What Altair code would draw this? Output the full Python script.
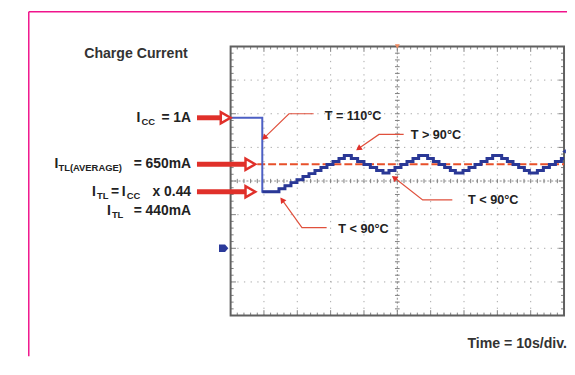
import altair as alt
import pandas as pd

FONT = "Liberation Sans"
TXT = "#222222"
RED = "#e0302a"
CALL = "#e0503c"
BLUE = "#2a3896"
BLUE_LIGHT = "#4c5fc4"
PINK = "#f0148c"

# ---- trace (time in s, 10 s/div; current in A) ----
time_s = [0, 9.5, 14.5, 16.3, 18.1, 19.9, 21.7, 23.5, 25.3, 27.1, 28.9, 30.7, 32.5, 34.1,
          36.2, 38.1, 40.0, 41.9, 43.8, 45.7,
          47.5, 49.3, 51.1, 52.9, 54.7, 56.4,
          59.1, 60.8, 62.5, 64.2, 65.9, 67.4,
          69.7, 71.5, 73.3, 75.1, 76.9, 78.6,
          81.3, 83.0, 84.7, 86.4, 88.1, 89.6,
          92.0, 93.8, 95.6, 97.4, 99.2, 100]
current_a = [0.97, 0.42, 0.443, 0.465, 0.488, 0.51, 0.533, 0.555, 0.578, 0.60, 0.623, 0.645, 0.668, 0.69,
             0.668, 0.645, 0.623, 0.60, 0.578, 0.56,
             0.578, 0.60, 0.623, 0.645, 0.668, 0.69,
             0.668, 0.645, 0.623, 0.60, 0.578, 0.56,
             0.578, 0.60, 0.623, 0.645, 0.668, 0.69,
             0.668, 0.645, 0.623, 0.60, 0.578, 0.56,
             0.578, 0.60, 0.623, 0.645, 0.668, 0.668]

icc_level = 0.97
avg_level = 0.625
itl_level = 0.42
avg_start = 8.0

x_domain = [0, 100]
y_domain = [-0.5, 1.5]
x_grid = [10, 20, 30, 40, 60, 70, 80, 90]
y_grid = [-0.25, 0.0, 0.25, 0.75, 1.0, 1.25]
x_center = 50
y_center = 0.5

# callouts: (id, t, I) polyline points, last point is the arrow tip
call_id = [1, 1, 1, 2, 2, 2, 3, 3, 3, 4, 4, 4]
call_t = [24.9, 17.5, 10.3, 51.9, 44.5, 38.6, 66.5, 57.6, 49.3, 28.8, 21.4, 15.6]
call_i = [1.0, 1.0, 0.826, 0.846, 0.846, 0.745, 0.36, 0.36, 0.52, 0.154, 0.154, 0.355]
head_angle = [226, 236, 307, 324]

call_text = ["T = 110°C", "T > 90°C", "T < 90°C", "T < 90°C"]
call_text_t = [28.2, 54.0, 71.2, 32.3]
call_text_i = [0.98, 0.84, 0.36, 0.14]

xs = alt.Scale(domain=x_domain, range=[225, 562], nice=False, zero=False)
ys = alt.Scale(domain=y_domain, range=[309, 37], nice=False, zero=False)


def X(f):
    return alt.X(f, type="quantitative", scale=xs, axis=None)


def Y(f):
    return alt.Y(f, type="quantitative", scale=ys, axis=None)


one = pd.DataFrame({"a": [0]})
layers = []

# pink page border
layers.append(alt.Chart(one).mark_rule(color=PINK, strokeWidth=1.5).encode(
    x=alt.value(21), y=alt.value(2), y2=alt.value(350)))
layers.append(alt.Chart(one).mark_rule(color=PINK, strokeWidth=1.5).encode(
    x=alt.value(21), x2=alt.value(565), y=alt.value(2)))

# grid
gv = pd.DataFrame({"t": x_grid, "lo": y_domain[0], "hi": y_domain[1]})
gh = pd.DataFrame({"v": y_grid, "lo": x_domain[0], "hi": x_domain[1]})
dash = [1.3, 5.44]
layers.append(alt.Chart(gv).mark_rule(color="#a8a8a8", strokeWidth=1, strokeDash=dash).encode(
    x=X("t"), y=Y("lo"), y2="hi"))
layers.append(alt.Chart(gh).mark_rule(color="#a8a8a8", strokeWidth=1, strokeDash=dash).encode(
    y=Y("v"), x=X("lo"), x2="hi"))
cv = pd.DataFrame({"t": [x_center], "lo": y_domain[0], "hi": y_domain[1]})
ch = pd.DataFrame({"v": [y_center], "lo": x_domain[0], "hi": x_domain[1]})
layers.append(alt.Chart(cv).mark_rule(color="#909090", strokeWidth=1, strokeDash=[2, 2]).encode(
    x=X("t"), y=Y("lo"), y2="hi"))
layers.append(alt.Chart(ch).mark_rule(color="#909090", strokeWidth=1, strokeDash=[2, 2]).encode(
    y=Y("v"), x=X("lo"), x2="hi"))

# small graticule ticks (every 0.2 div) on the centre lines and the frame
minor_t = [round(2 * i, 1) for i in range(1, 50)]
minor_i = [round(-0.5 + 0.05 * i, 2) for i in range(1, 40)]
seg = []
for t in minor_t:
    L = 0.04 if t % 10 == 0 else 0.022
    seg.append((t, t, y_center - 0.016, y_center + 0.016))
    seg.append((t, t, y_domain[0], y_domain[0] + L))
    seg.append((t, t, y_domain[1] - L, y_domain[1]))
for v in minor_i:
    L = 1.6 if abs(v * 4 - round(v * 4)) < 1e-6 else 0.9
    seg.append((x_center - 0.7, x_center + 0.7, v, v))
    seg.append((x_domain[0], x_domain[0] + L, v, v))
    seg.append((x_domain[1] - L, x_domain[1], v, v))
segdf = pd.DataFrame(seg, columns=["x1", "x2", "y1", "y2"])
layers.append(alt.Chart(segdf).mark_rule(color="#808080", strokeWidth=1).encode(
    x=X("x1"), x2="x2", y=Y("y1"), y2="y2"))

# frame
frame = pd.DataFrame({"x1": [x_domain[0]], "x2": [x_domain[1]], "y1": [y_domain[0]], "y2": [y_domain[1]]})
layers.append(alt.Chart(frame).mark_rect(fillOpacity=0, stroke="#606060", strokeWidth=2).encode(
    x=X("x1"), x2="x2", y=Y("y1"), y2="y2"))

# trigger marker on top
layers.append(alt.Chart(pd.DataFrame({"t": [x_center], "v": [y_domain[1]]})).mark_point(
    shape="triangle-down", filled=True, color="#f08a60", size=25, opacity=1).encode(x=X("t"), y=Y("v")))

# ground marker "D"
layers.append(alt.Chart(pd.DataFrame({"v": [0.0]})).mark_point(
    shape="M-1,-0.8L0.3,-0.8L1,0L0.3,0.8L-1,0.8Z", filled=True, color="#2b3a9a", size=90, opacity=1
).encode(x=alt.value(218), y=Y("v")))

# trigger-level marker at right edge
layers.append(alt.Chart(pd.DataFrame({"t": [x_domain[1]], "v": [0.72]})).mark_point(
    shape="triangle-left", filled=True, color="#2b3a9a", size=18, opacity=1).encode(x=X("t"), y=Y("v")))

# average line
avgdf = pd.DataFrame({"t0": [avg_start], "t1": [x_domain[1]], "v": [avg_level]})
layers.append(alt.Chart(avgdf).mark_rule(color="#e8502a", strokeWidth=2, strokeDash=[8, 3]).encode(
    x=X("t0"), x2="t1", y=Y("v")))

# trace: thin light part (constant-current level and drop), thick dark staircase
tr = pd.DataFrame({"t": time_s, "i": current_a})
layers.append(alt.Chart(tr).mark_line(interpolate="step-after", color=BLUE_LIGHT, strokeWidth=2).encode(
    x=X("t"), y=Y("i")))
tr2 = pd.DataFrame({"t": time_s[1:], "i": current_a[1:]})
layers.append(alt.Chart(tr2).mark_line(interpolate="step-after", color=BLUE, strokeWidth=3).encode(
    x=X("t"), y=Y("i")))

# big red arrows on the left
for level, x0, x1, hx in [(icc_level, 191, 216, 220), (avg_level, 191, 241, 245), (itl_level, 191, 241, 245)]:
    d = pd.DataFrame({"v": [level]})
    layers.append(alt.Chart(d).mark_rule(color=RED, strokeWidth=5).encode(
        x=alt.value(x0), x2=alt.value(x1), y=Y("v")))
    layers.append(alt.Chart(d).mark_point(shape="triangle-right", filled=True, fill="white", stroke=RED,
                                          strokeWidth=2.5, size=130, opacity=1).encode(
        x=alt.value(hx), y=Y("v")))

# callout lines with arrow heads
cdf = pd.DataFrame({"id": call_id, "t": call_t, "i": call_i, "o": list(range(len(call_id)))})
layers.append(alt.Chart(cdf).mark_line(color=CALL, strokeWidth=1.2).encode(
    x=X("t"), y=Y("i"), detail="id:N", order="o:Q"))
tips = cdf.groupby("id").tail(1).copy()
tips["ang"] = head_angle
layers.append(alt.Chart(tips).mark_point(shape="triangle", filled=True, color=RED, size=45, opacity=1).encode(
    x=X("t"), y=Y("i"), angle=alt.Angle("ang:Q", scale=None)))

ctd = pd.DataFrame({"txt": call_text, "t": call_text_t, "i": call_text_i})
layers.append(alt.Chart(ctd).mark_text(align="left", baseline="middle", font=FONT, fontWeight="bold",
                                        fontSize=12.8, color=TXT).encode(
    x=X("t"), y=Y("i"), text="txt:N"))


def label(text, x_px, level, size=14, dy=0, align="left"):
    return alt.Chart(pd.DataFrame({"v": [level]})).mark_text(
        text=text, align=align, baseline="middle", font=FONT, fontWeight="bold",
        fontSize=size, dy=dy, color=TXT).encode(x=alt.value(x_px), y=Y("v"))


SUB = 9.5
SD = 4
R4 = 19
layers += [
    label("I", 130, icc_level), label("CC", 135, icc_level, SUB, SD),
    label("= 1A", 185, icc_level, align="right"),
    label("I", 47, avg_level), label("TL(AVERAGE)", 51, avg_level, SUB, SD),
    label("= 650mA", 185, avg_level, align="right"),
    label("I", 85, itl_level), label("TL", 90, itl_level, SUB, SD), label("=", 104, itl_level),
    label("I", 115, itl_level), label("CC", 120, itl_level, SUB, SD),
    label("x 0.44", 185, itl_level, align="right"),
    label("I", 100, itl_level, 14, R4), label("TL", 105, itl_level, SUB, R4 + SD),
    label("= 440mA", 185, itl_level, 14, R4, align="right"),
]

layers.append(alt.Chart(one).mark_text(text="Charge Current", align="left", baseline="middle", font=FONT,
                                        fontWeight="bold", fontSize=14.3, color="#333333").encode(
    x=alt.value(77), y=alt.value(45)))
layers.append(alt.Chart(one).mark_text(text="Time = 10s/div.", align="right", baseline="middle", font=FONT,
                                        fontWeight="bold", fontSize=14.3, color="#333333").encode(
    x=alt.value(565), y=alt.value(338)))

chart = alt.layer(*layers).properties(
    width=565, height=350, padding=0,
    autosize=alt.AutoSizeParams(type="none"),
    background="white",
).configure_view(stroke=None)

chart.save("out.html", embed_options={"renderer": "svg", "actions": False})
